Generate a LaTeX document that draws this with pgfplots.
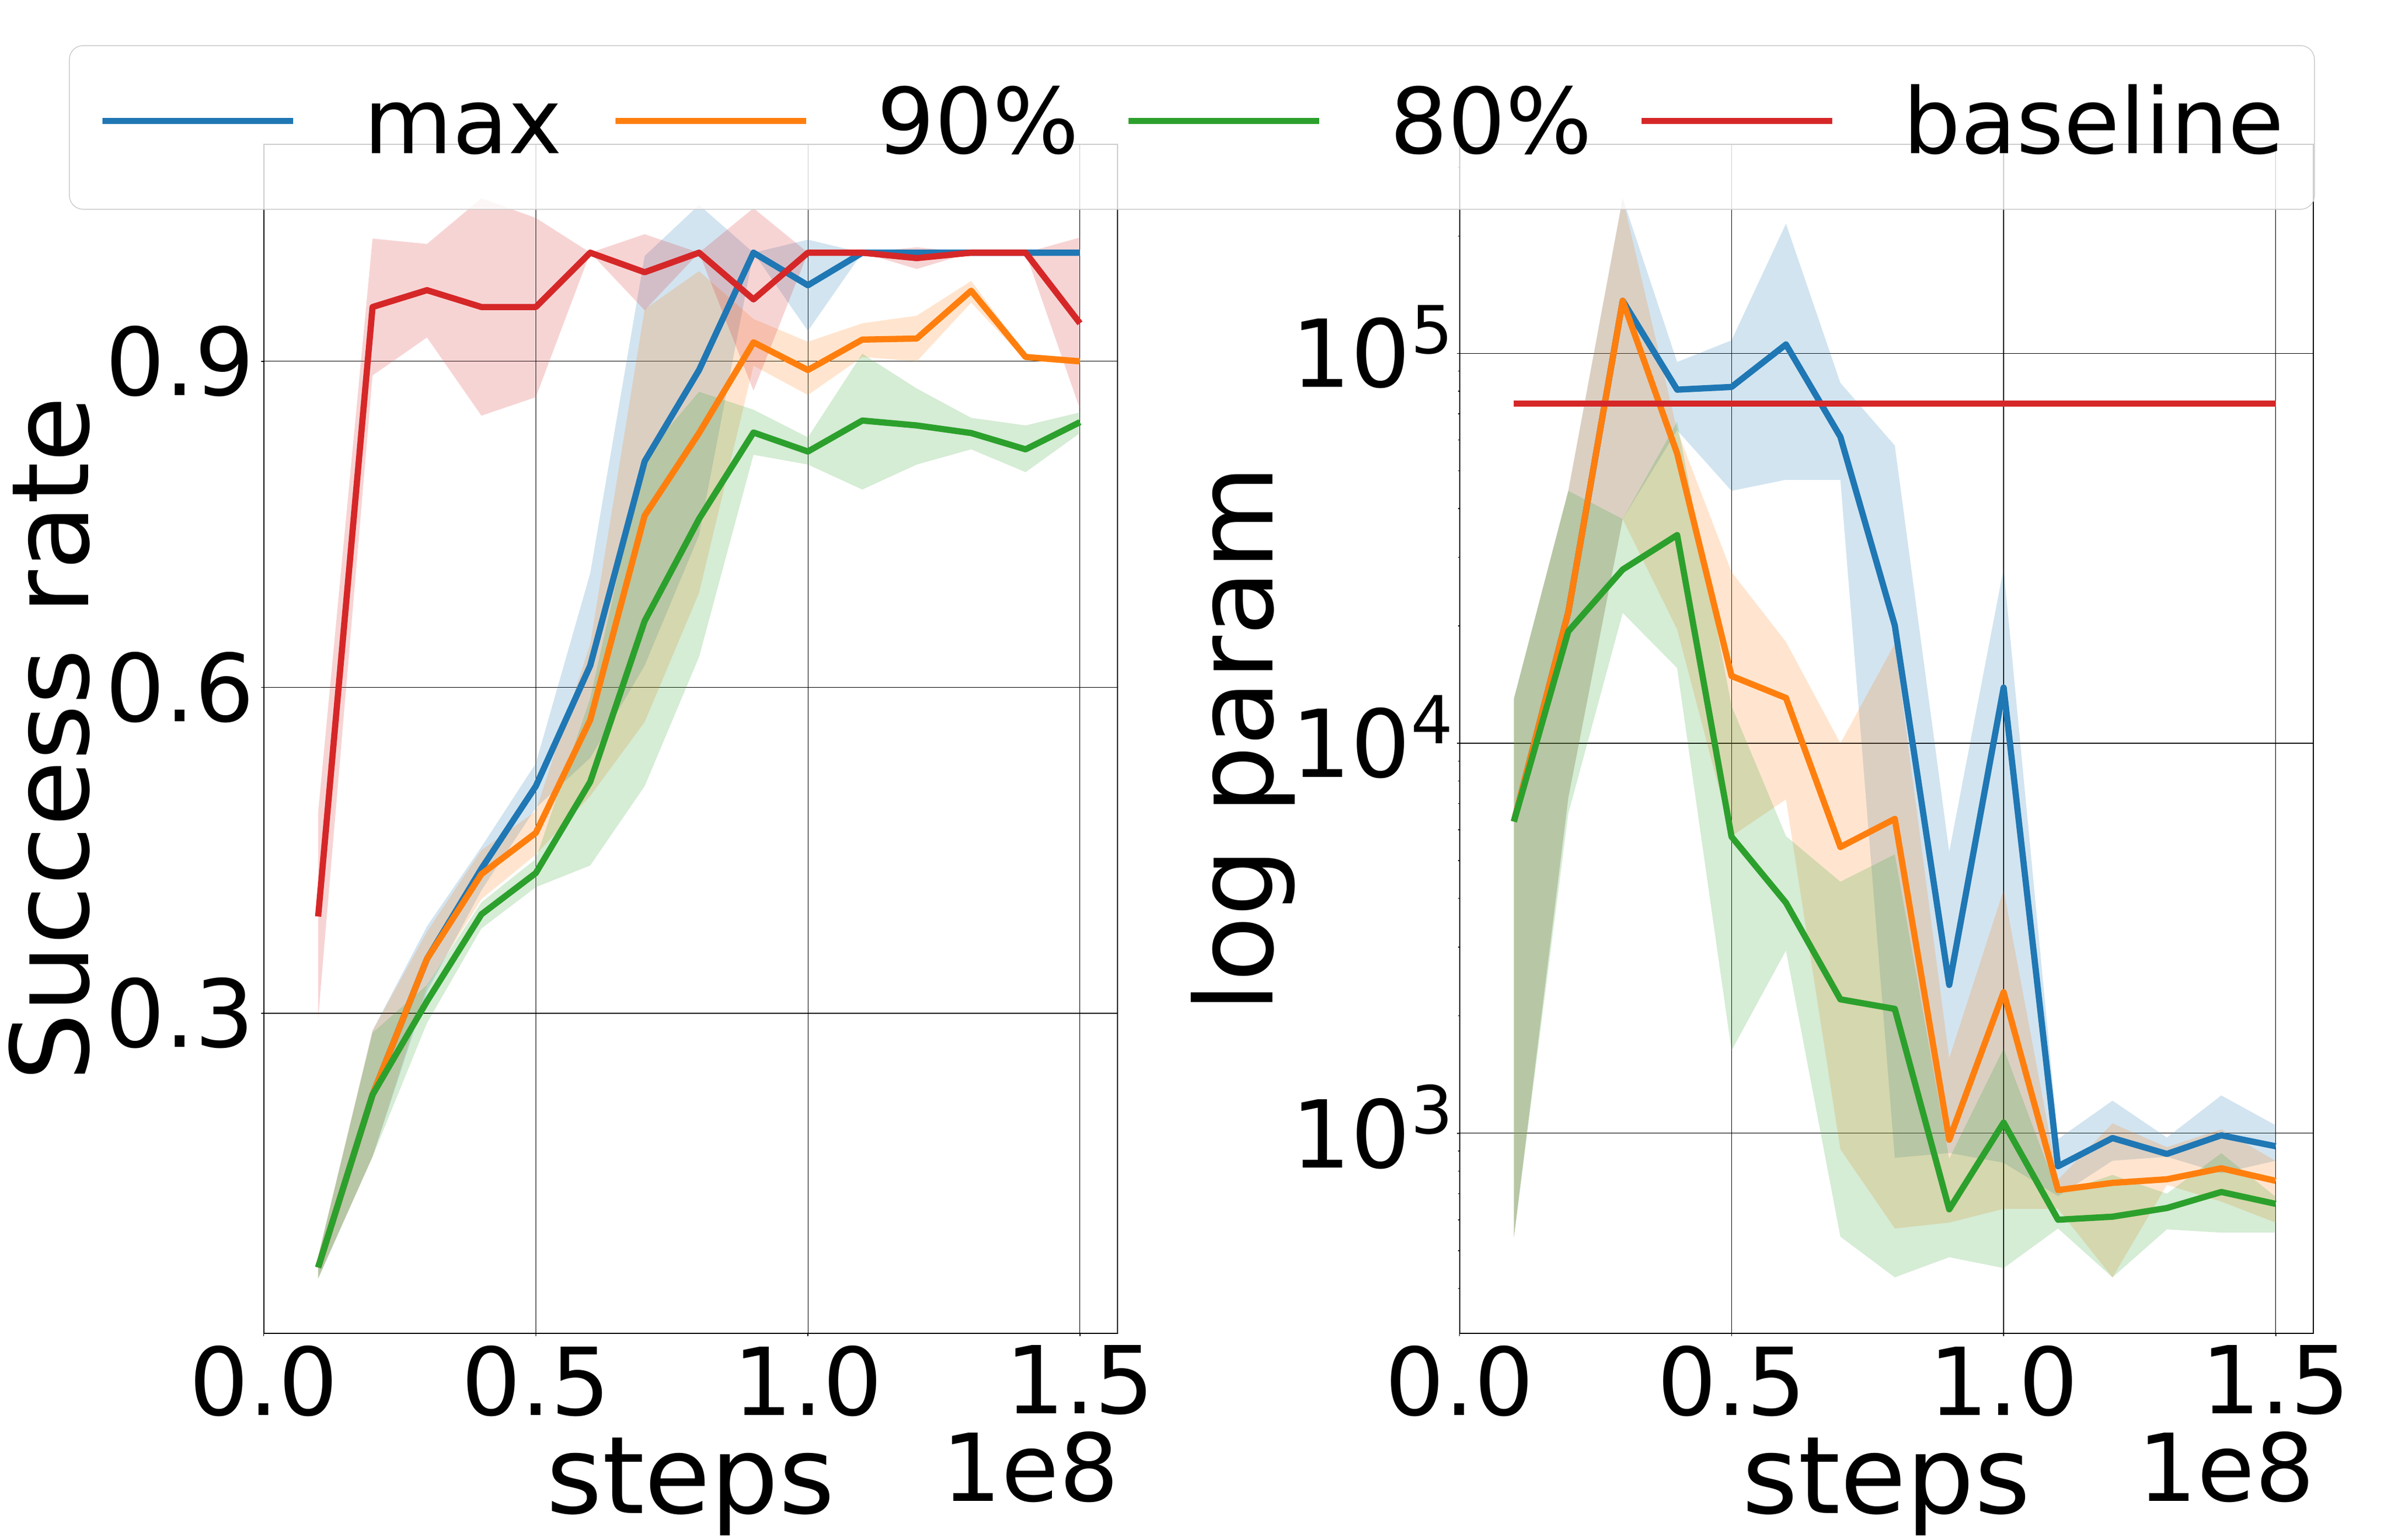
\documentclass[border=0pt]{standalone}
\usepackage{fontspec}
\setmainfont{DejaVu Sans}
\usepackage{pgfplots}
\pgfplotsset{compat=1.18}
\usepackage{pgfplotstable}
\usepgfplotslibrary{fillbetween}

\definecolor{tabblue}{HTML}{1F77B4}
\definecolor{taborange}{HTML}{FF7F0E}
\definecolor{tabgreen}{HTML}{2CA02C}
\definecolor{tabred}{HTML}{D62728}

% ---------- left panel: success rate (x in units of 1e8 steps) ----------
\pgfplotstableread{
x m lo hi
0.1 0.066 0.056 0.076
0.2 0.225 0.168 0.284
0.3 0.350 0.320 0.380
0.4 0.433 0.413 0.453
0.5 0.509 0.489 0.530
0.6 0.620 0.535 0.705
0.7 0.808 0.620 0.997
0.8 0.892 0.740 1.044
0.9 1.000 1.000 1.000
1.0 0.970 0.928 1.012
1.1 1.000 1.000 1.000
1.2 1.000 1.000 1.000
1.3 1.000 1.000 1.000
1.4 1.000 1.000 1.000
1.5 1.000 1.000 1.000
}\Lmax
\pgfplotstableread{
x m lo hi
0.1 0.066 0.056 0.076
0.2 0.225 0.168 0.284
0.3 0.350 0.325 0.375
0.4 0.428 0.405 0.450
0.5 0.466 0.446 0.486
0.6 0.570 0.500 0.640
0.7 0.758 0.568 0.948
0.8 0.834 0.687 0.983
0.9 0.9175 0.896 0.939
1.0 0.892 0.869 0.918
1.1 0.920 0.904 0.935
1.2 0.921 0.900 0.942
1.3 0.965 0.954 0.974
1.4 0.904 0.901 0.907
1.5 0.900 0.897 0.903
}\Lninety
\pgfplotstableread{
x m lo hi
0.1 0.066 0.0555 0.076
0.2 0.225 0.168 0.282
0.3 0.311 0.291 0.326
0.4 0.391 0.378 0.402
0.5 0.429 0.416 0.442
0.6 0.513 0.436 0.590
0.7 0.661 0.509 0.813
0.8 0.755 0.628 0.872
0.9 0.8345 0.814 0.8555
1.0 0.817 0.805 0.830
1.1 0.8455 0.782 0.907
1.2 0.841 0.805 0.875
1.3 0.834 0.819 0.848
1.4 0.819 0.798 0.841
1.5 0.844 0.834 0.853
}\Leighty
\pgfplotstableread{
x m lo hi
0.1 0.389 0.295 0.485
0.2 0.950 0.887 1.013
0.3 0.9655 0.922 1.008
0.4 0.950 0.850 1.050
0.5 0.950 0.867 1.032
0.6 1.000 1.000 1.000
0.7 0.982 0.947 1.017
0.8 1.000 1.000 1.000
0.9 0.957 0.873 1.041
1.0 1.000 1.000 1.000
1.1 1.000 1.000 1.000
1.2 0.995 0.985 1.005
1.3 1.000 1.000 1.000
1.4 1.000 1.000 1.000
1.5 0.935 0.856 1.014
}\Lbase

% ---------- right panel: log param ----------
\pgfplotstableread{
x m lo hi
0.1 6300 540 13000
0.2 21700 7250 44400
0.3 136400 37600 250000
0.4 80700 63500 95000
0.5 82000 44400 108000
0.6 105400 47400 215000
0.7 61100 47400 84000
0.8 20050 865 58000
0.9 2400 890 5270
1.0 13900 840 28100
1.1 823 690 966
1.2 972 850 1212
1.3 885 870 975
1.4 988 790 1250
1.5 926 850 1048
}\Rmax
\pgfplotstableread{
x m lo hi
0.1 6300 540 13000
0.2 21700 7250 44400
0.3 136400 37600 250000
0.4 55350 19600 63500
0.5 14880 5780 27500
0.6 13070 7180 18200
0.7 5420 910 10000
0.8 6400 570 18000
0.9 962 590 1557
1.0 2300 640 4210
1.1 715 640 760
1.2 746 427 1060
1.3 762 737 921
1.4 813 668 1024
1.5 755 590 849
}\Rninety
\pgfplotstableread{
x m lo hi
0.1 6300 540 13000
0.2 19370 6610 44400
0.3 27900 21600 37600
0.4 34200 15600 66760
0.5 5760 1630 12470
0.6 3900 2943 5780
0.7 2205 543 4416
0.8 2084 427 5190
0.9 638 481 860
1.0 1065 451 1650
1.1 600 570 700
1.2 611 427 782
1.3 643 567 700
1.4 707 556 889
1.5 659 556 687
}\Reighty
\pgfplotstableread{
x m
0.1 74300
1.5 74300
}\Rbase

\pgfplotsset{
  panel/.style={
    scale only axis, width=154.94pt, height=215.8pt,
    xmin=0, xmax=1.569,
    clip mode=individual,
    xtick={0,0.5,1,1.5}, xticklabels={0.0,0.5,1.0,1.5},
    tick align=outside, xtick pos=bottom, ytick pos=left,
    major tick length=0.5pt, minor tick length=0.3pt,
    tick style={black, line width=0.15pt},
    axis line style={black, line width=0.2pt},
    grid=major, major grid style={black, line width=0.12pt},
    tick label style={font=\fontsize{17}{20}\selectfont, inner sep=0pt},
    xticklabel style={yshift=-1.5pt},
    xlabel={steps},
    every axis x label/.style={at={(axis description cs:0.5,-0.1515)}, anchor=base,
      font=\fontsize{19.5}{23}\selectfont},
  },
  band/.style={draw=none, fill=#1, fill opacity=0.2, forget plot},
  mean/.style={#1, line width=1.13pt, line join=round},
}

\newcommand{\sci}[1]{10\raisebox{0.36em}{\fontsize{12}{12}\selectfont #1}}

\begin{document}
\begin{tikzpicture}

% ================= left =================
\begin{axis}[panel,
  at={(47.86pt,37.4pt)}, anchor=south west,
  ymin=0.0053, ymax=1.0997,
  ytick={0.3,0.6,0.9}, yticklabels={0.3,0.6,0.9},
  yticklabel style={xshift=-1.0pt},
  ylabel={Success rate},
  every axis y label/.style={at={(axis description cs:-0.2050,0.5)}, rotate=90, anchor=base,
    font=\fontsize{19.5}{23}\selectfont},
]
\addplot[name path=a1, draw=none, forget plot] table[x=x,y=hi]{\Lmax};
\addplot[name path=b1, draw=none, forget plot] table[x=x,y=lo]{\Lmax};
\addplot[band=tabblue] fill between[of=a1 and b1];
\addplot[name path=a2, draw=none, forget plot] table[x=x,y=hi]{\Lninety};
\addplot[name path=b2, draw=none, forget plot] table[x=x,y=lo]{\Lninety};
\addplot[band=taborange] fill between[of=a2 and b2];
\addplot[name path=a3, draw=none, forget plot] table[x=x,y=hi]{\Leighty};
\addplot[name path=b3, draw=none, forget plot] table[x=x,y=lo]{\Leighty};
\addplot[band=tabgreen] fill between[of=a3 and b3];
\addplot[name path=a4, draw=none, forget plot] table[x=x,y=hi]{\Lbase};
\addplot[name path=b4, draw=none, forget plot] table[x=x,y=lo]{\Lbase};
\addplot[band=tabred] fill between[of=a4 and b4];

\addplot[mean=tabblue] table[x=x,y=m]{\Lmax};
\addplot[mean=taborange] table[x=x,y=m]{\Lninety};
\addplot[mean=tabgreen] table[x=x,y=m]{\Leighty};
\addplot[mean=tabred] table[x=x,y=m]{\Lbase};

\node[anchor=base east, font=\fontsize{17}{20}\selectfont, inner sep=0pt] at (axis description cs:1.003,-0.1409) {1e8};
\end{axis}

% ================= right =================
\begin{axis}[panel,
  at={(264.85pt,37.4pt)}, anchor=south west,
  ymode=log, ymin=306.7, ymax=343500,
  ytick={1000,10000,100000}, yticklabels={{\sci{3}},{\sci{4}},{\sci{5}}},
  minor ytick={400,500,600,700,800,900,2000,3000,4000,5000,6000,7000,8000,9000,20000,30000,40000,50000,60000,70000,80000,90000,200000,300000},
  yticklabel style={xshift=-0.5pt, yshift=1.15pt},
  ylabel={log param},
  every axis y label/.style={at={(axis description cs:-0.2185,0.5)}, rotate=90, anchor=base,
    font=\fontsize{19.5}{23}\selectfont},
  legend columns=4,
  legend cell align=left,
  legend image code/.code={\draw[#1, line width=1.1pt] (0pt,1.15pt) -- (34.6pt,1.15pt);},
  legend style={
    at={(axis description cs:-1.6286,1.0834)}, anchor=north west,
    draw=black!20, line width=0.15pt, fill=white, fill opacity=0.8, text opacity=1, draw opacity=1,
    rounded corners=2.5pt, inner xsep=5.5pt, inner ysep=7pt,
    font=\fontsize{16.5}{19}\selectfont,
    nodes={inner sep=0pt, text height=12.6pt, text depth=3.1pt},
    /tikz/every odd column/.append style={column sep=12.3pt},
    /tikz/every even column/.append style={column sep=0pt},
  },
]
\addplot[name path=c1, draw=none, forget plot] table[x=x,y=hi]{\Rmax};
\addplot[name path=d1, draw=none, forget plot] table[x=x,y=lo]{\Rmax};
\addplot[band=tabblue] fill between[of=c1 and d1];
\addplot[name path=c2, draw=none, forget plot] table[x=x,y=hi]{\Rninety};
\addplot[name path=d2, draw=none, forget plot] table[x=x,y=lo]{\Rninety};
\addplot[band=taborange] fill between[of=c2 and d2];
\addplot[name path=c3, draw=none, forget plot] table[x=x,y=hi]{\Reighty};
\addplot[name path=d3, draw=none, forget plot] table[x=x,y=lo]{\Reighty};
\addplot[band=tabgreen] fill between[of=c3 and d3];

\addplot[mean=tabblue] table[x=x,y=m]{\Rmax};
\addlegendentry{\makebox[45.1pt][l]{max}}
\addplot[mean=taborange] table[x=x,y=m]{\Rninety};
\addlegendentry{\makebox[45.1pt][l]{90\%}}
\addplot[mean=tabgreen] table[x=x,y=m]{\Reighty};
\addlegendentry{\makebox[45.1pt][l]{80\%}}
\addplot[mean=tabred] table[x=x,y=m]{\Rbase};
\addlegendentry{baseline\hspace{1pt}}

\node[anchor=base east, font=\fontsize{17}{20}\selectfont, inner sep=0pt] at (axis description cs:1.003,-0.1409) {1e8};
\end{axis}

\pgfresetboundingbox
\path (0pt,0pt) rectangle (433.9pt,279.4pt);
\end{tikzpicture}
\end{document}
